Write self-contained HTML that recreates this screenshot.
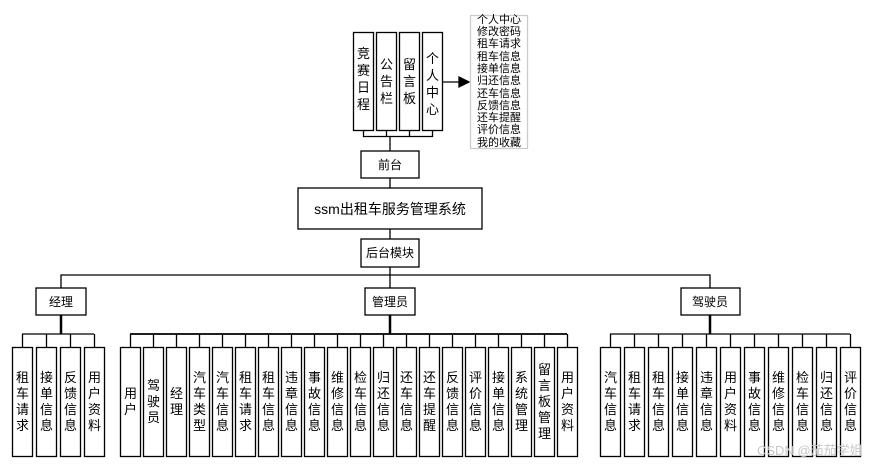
<!DOCTYPE html>
<html><head><meta charset="utf-8"><style>
html,body{margin:0;padding:0;background:#fff;}
svg text{font-family:"Liberation Sans","Noto Sans CJK SC",sans-serif;fill:#000;}
</style></head><body>
<svg width="876" height="465" xmlns="http://www.w3.org/2000/svg">
<g stroke="#000" stroke-width="1.3" fill="#fff">
<rect x="353.5" y="32.5" width="20" height="98"/>
<rect x="376.5" y="32.5" width="20" height="98"/>
<rect x="399.5" y="32.5" width="20" height="98"/>
<rect x="422.5" y="32.5" width="20" height="98"/>
<polyline fill="none" points="363.5,130.5 363.5,136.5 432.5,136.5 432.5,130.5"/>
<line x1="386.5" y1="130.5" x2="386.5" y2="136.5"/>
<line x1="409.5" y1="130.5" x2="409.5" y2="136.5"/>
<line x1="390" y1="136.5" x2="390" y2="151"/>
<line x1="442.5" y1="82" x2="460" y2="82"/>
<polygon points="469,82 459,77 459,87" fill="#000"/>
<rect x="470.5" y="15.5" width="57" height="133" stroke="#ccc"/>
<rect x="361" y="151" width="58" height="27"/>
<line x1="390" y1="178" x2="390" y2="188"/>
<rect x="298" y="188" width="184" height="41"/>
<line x1="390" y1="229" x2="390" y2="239"/>
<rect x="361" y="239" width="58" height="28"/>
<line x1="390" y1="267" x2="390" y2="275"/>
<polyline fill="none" points="61,288 61,275 710,275 710,288"/>
<line x1="390" y1="275" x2="390" y2="288"/>
<rect x="36" y="288" width="50" height="27"/>
<rect x="365" y="288" width="50" height="27"/>
<rect x="681" y="288" width="59" height="27"/>
<line x1="61" y1="315" x2="61" y2="334" stroke-width="2.5"/>
<line x1="390" y1="315" x2="390" y2="334" stroke-width="2.5"/>
<line x1="710" y1="315" x2="710" y2="334" stroke-width="2.5"/>
<line x1="22" y1="334" x2="94" y2="334"/>
<line x1="130" y1="334" x2="567" y2="334" stroke-width="1.8"/>
<line x1="610" y1="334" x2="850" y2="334"/>
</g>
<g stroke="#000" stroke-width="1.3" fill="#fff">
<rect x="12.5" y="347.5" width="20" height="109"/><rect x="36.5" y="347.5" width="20" height="109"/><rect x="60.5" y="347.5" width="20" height="109"/><rect x="84.5" y="347.5" width="20" height="109"/>
<line x1="22.5" y1="334" x2="22.5" y2="347.5"/><line x1="46.5" y1="334" x2="46.5" y2="347.5"/><line x1="70.5" y1="334" x2="70.5" y2="347.5"/><line x1="94.5" y1="334" x2="94.5" y2="347.5"/>
<rect x="120.5" y="347.5" width="20" height="109"/><rect x="143.5" y="347.5" width="20" height="109"/><rect x="166.5" y="347.5" width="20" height="109"/><rect x="189.5" y="347.5" width="20" height="109"/><rect x="212.5" y="347.5" width="20" height="109"/><rect x="235.5" y="347.5" width="20" height="109"/><rect x="258.5" y="347.5" width="20" height="109"/><rect x="281.5" y="347.5" width="20" height="109"/><rect x="304.5" y="347.5" width="20" height="109"/><rect x="327.5" y="347.5" width="20" height="109"/><rect x="350.5" y="347.5" width="20" height="109"/><rect x="373.5" y="347.5" width="20" height="109"/><rect x="396.5" y="347.5" width="20" height="109"/><rect x="419.5" y="347.5" width="20" height="109"/><rect x="442.5" y="347.5" width="20" height="109"/><rect x="465.5" y="347.5" width="20" height="109"/><rect x="488.5" y="347.5" width="20" height="109"/><rect x="511.5" y="347.5" width="20" height="109"/><rect x="534.5" y="347.5" width="20" height="109"/><rect x="557.5" y="347.5" width="20" height="109"/>
<line x1="130.5" y1="334" x2="130.5" y2="347.5"/><line x1="153.5" y1="334" x2="153.5" y2="347.5"/><line x1="176.5" y1="334" x2="176.5" y2="347.5"/><line x1="199.5" y1="334" x2="199.5" y2="347.5"/><line x1="222.5" y1="334" x2="222.5" y2="347.5"/><line x1="245.5" y1="334" x2="245.5" y2="347.5"/><line x1="268.5" y1="334" x2="268.5" y2="347.5"/><line x1="291.5" y1="334" x2="291.5" y2="347.5"/><line x1="314.5" y1="334" x2="314.5" y2="347.5"/><line x1="337.5" y1="334" x2="337.5" y2="347.5"/><line x1="360.5" y1="334" x2="360.5" y2="347.5"/><line x1="383.5" y1="334" x2="383.5" y2="347.5"/><line x1="406.5" y1="334" x2="406.5" y2="347.5"/><line x1="429.5" y1="334" x2="429.5" y2="347.5"/><line x1="452.5" y1="334" x2="452.5" y2="347.5"/><line x1="475.5" y1="334" x2="475.5" y2="347.5"/><line x1="498.5" y1="334" x2="498.5" y2="347.5"/><line x1="521.5" y1="334" x2="521.5" y2="347.5"/><line x1="544.5" y1="334" x2="544.5" y2="347.5"/><line x1="567.5" y1="334" x2="567.5" y2="347.5"/>
<rect x="600.5" y="347.5" width="20" height="109"/><rect x="624.5" y="347.5" width="20" height="109"/><rect x="648.5" y="347.5" width="20" height="109"/><rect x="672.5" y="347.5" width="20" height="109"/><rect x="696.5" y="347.5" width="20" height="109"/><rect x="720.5" y="347.5" width="20" height="109"/><rect x="744.5" y="347.5" width="20" height="109"/><rect x="768.5" y="347.5" width="20" height="109"/><rect x="792.5" y="347.5" width="20" height="109"/><rect x="816.5" y="347.5" width="20" height="109"/><rect x="840.5" y="347.5" width="20" height="109"/>
<line x1="610.5" y1="334" x2="610.5" y2="347.5"/><line x1="634.5" y1="334" x2="634.5" y2="347.5"/><line x1="658.5" y1="334" x2="658.5" y2="347.5"/><line x1="682.5" y1="334" x2="682.5" y2="347.5"/><line x1="706.5" y1="334" x2="706.5" y2="347.5"/><line x1="730.5" y1="334" x2="730.5" y2="347.5"/><line x1="754.5" y1="334" x2="754.5" y2="347.5"/><line x1="778.5" y1="334" x2="778.5" y2="347.5"/><line x1="802.5" y1="334" x2="802.5" y2="347.5"/><line x1="826.5" y1="334" x2="826.5" y2="347.5"/><line x1="850.5" y1="334" x2="850.5" y2="347.5"/>
</g>
<g font-size="13" text-anchor="middle">
<text x="363.5" y="58">竞</text><text x="363.5" y="75">赛</text><text x="363.5" y="92">日</text><text x="363.5" y="109">程</text>
<text x="386.5" y="69">公</text><text x="386.5" y="86">告</text><text x="386.5" y="103">栏</text>
<text x="409.5" y="69">留</text><text x="409.5" y="86">言</text><text x="409.5" y="103">板</text>
<text x="432.5" y="63">个</text><text x="432.5" y="80">人</text><text x="432.5" y="97">中</text><text x="432.5" y="114">心</text>
</g>
<g font-size="11" text-anchor="middle">
<text x="499" y="23">个人中心</text><text x="499" y="35">修改密码</text><text x="499" y="47">租车请求</text><text x="499" y="60">租车信息</text><text x="499" y="72">接单信息</text><text x="499" y="84">归还信息</text><text x="499" y="97">还车信息</text><text x="499" y="109">反馈信息</text><text x="499" y="121">还车提醒</text><text x="499" y="133">评价信息</text><text x="499" y="146">我的收藏</text>
</g>
<g font-size="12" text-anchor="middle">
<text x="390" y="169">前台</text>
<text x="390" y="214" font-size="14">ssm出租车服务管理系统</text>
<text x="390" y="257">后台模块</text>
<text x="61" y="306">经理</text>
<text x="390" y="306">管理员</text>
<text x="710" y="306">驾驶员</text>
</g>
<g font-size="13" text-anchor="middle">
<text x="22.5" y="382">租</text><text x="22.5" y="398">车</text><text x="22.5" y="414">请</text><text x="22.5" y="430">求</text>
<text x="46.5" y="382">接</text><text x="46.5" y="398">单</text><text x="46.5" y="414">信</text><text x="46.5" y="430">息</text>
<text x="70.5" y="382">反</text><text x="70.5" y="398">馈</text><text x="70.5" y="414">信</text><text x="70.5" y="430">息</text>
<text x="94.5" y="382">用</text><text x="94.5" y="398">户</text><text x="94.5" y="414">资</text><text x="94.5" y="430">料</text>

<text x="130.5" y="398">用</text><text x="130.5" y="414">户</text>
<text x="153.5" y="390">驾</text><text x="153.5" y="406">驶</text><text x="153.5" y="422">员</text>
<text x="176.5" y="398">经</text><text x="176.5" y="414">理</text>
<text x="199.5" y="382">汽</text><text x="199.5" y="398">车</text><text x="199.5" y="414">类</text><text x="199.5" y="430">型</text>
<text x="222.5" y="382">汽</text><text x="222.5" y="398">车</text><text x="222.5" y="414">信</text><text x="222.5" y="430">息</text>
<text x="245.5" y="382">租</text><text x="245.5" y="398">车</text><text x="245.5" y="414">请</text><text x="245.5" y="430">求</text>
<text x="268.5" y="382">租</text><text x="268.5" y="398">车</text><text x="268.5" y="414">信</text><text x="268.5" y="430">息</text>
<text x="291.5" y="382">违</text><text x="291.5" y="398">章</text><text x="291.5" y="414">信</text><text x="291.5" y="430">息</text>
<text x="314.5" y="382">事</text><text x="314.5" y="398">故</text><text x="314.5" y="414">信</text><text x="314.5" y="430">息</text>
<text x="337.5" y="382">维</text><text x="337.5" y="398">修</text><text x="337.5" y="414">信</text><text x="337.5" y="430">息</text>
<text x="360.5" y="382">检</text><text x="360.5" y="398">车</text><text x="360.5" y="414">信</text><text x="360.5" y="430">息</text>
<text x="383.5" y="382">归</text><text x="383.5" y="398">还</text><text x="383.5" y="414">信</text><text x="383.5" y="430">息</text>
<text x="406.5" y="382">还</text><text x="406.5" y="398">车</text><text x="406.5" y="414">信</text><text x="406.5" y="430">息</text>
<text x="429.5" y="382">还</text><text x="429.5" y="398">车</text><text x="429.5" y="414">提</text><text x="429.5" y="430">醒</text>
<text x="452.5" y="382">反</text><text x="452.5" y="398">馈</text><text x="452.5" y="414">信</text><text x="452.5" y="430">息</text>
<text x="475.5" y="382">评</text><text x="475.5" y="398">价</text><text x="475.5" y="414">信</text><text x="475.5" y="430">息</text>
<text x="498.5" y="382">接</text><text x="498.5" y="398">单</text><text x="498.5" y="414">信</text><text x="498.5" y="430">息</text>
<text x="521.5" y="382">系</text><text x="521.5" y="398">统</text><text x="521.5" y="414">管</text><text x="521.5" y="430">理</text>
<text x="544.5" y="374">留</text><text x="544.5" y="390">言</text><text x="544.5" y="406">板</text><text x="544.5" y="422">管</text><text x="544.5" y="438">理</text>
<text x="567.5" y="382">用</text><text x="567.5" y="398">户</text><text x="567.5" y="414">资</text><text x="567.5" y="430">料</text>

<text x="610.5" y="382">汽</text><text x="610.5" y="398">车</text><text x="610.5" y="414">信</text><text x="610.5" y="430">息</text>
<text x="634.5" y="382">租</text><text x="634.5" y="398">车</text><text x="634.5" y="414">请</text><text x="634.5" y="430">求</text>
<text x="658.5" y="382">租</text><text x="658.5" y="398">车</text><text x="658.5" y="414">信</text><text x="658.5" y="430">息</text>
<text x="682.5" y="382">接</text><text x="682.5" y="398">单</text><text x="682.5" y="414">信</text><text x="682.5" y="430">息</text>
<text x="706.5" y="382">违</text><text x="706.5" y="398">章</text><text x="706.5" y="414">信</text><text x="706.5" y="430">息</text>
<text x="730.5" y="382">用</text><text x="730.5" y="398">户</text><text x="730.5" y="414">资</text><text x="730.5" y="430">料</text>
<text x="754.5" y="382">事</text><text x="754.5" y="398">故</text><text x="754.5" y="414">信</text><text x="754.5" y="430">息</text>
<text x="778.5" y="382">维</text><text x="778.5" y="398">修</text><text x="778.5" y="414">信</text><text x="778.5" y="430">息</text>
<text x="802.5" y="382">检</text><text x="802.5" y="398">车</text><text x="802.5" y="414">信</text><text x="802.5" y="430">息</text>
<text x="826.5" y="382">归</text><text x="826.5" y="398">还</text><text x="826.5" y="414">信</text><text x="826.5" y="430">息</text>
<text x="850.5" y="382">评</text><text x="850.5" y="398">价</text><text x="850.5" y="414">信</text><text x="850.5" y="430">息</text>
</g>
<text x="757" y="455" font-size="13" style="fill:#c8c8c8">CSDN @茄茄学姐</text>
</svg>
</body></html>
